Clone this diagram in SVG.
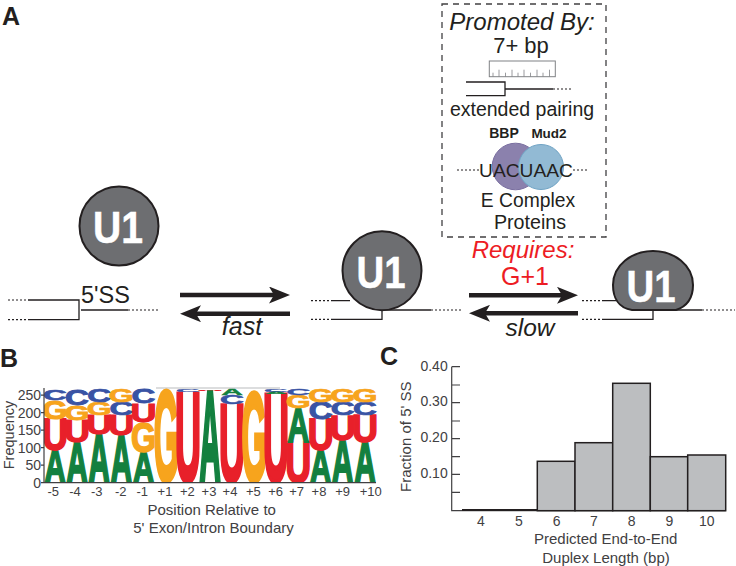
<svg xmlns="http://www.w3.org/2000/svg" width="736" height="566" viewBox="0 0 736 566">
<defs>
<marker id="head" markerUnits="userSpaceOnUse" viewBox="0 0 21 17" refX="13" refY="8.5" markerWidth="21" markerHeight="17" orient="auto"><path d="M0 0L21 8.5L0 17L5 8.5Z" fill="#231f20"/></marker>
<clipPath id="logoclip"><rect x="44" y="380" width="335" height="102.700"/></clipPath>
</defs>
<style>
text{font-family:"Liberation Sans",Arial,sans-serif;fill:#231f20}
.c{text-anchor:middle}
.e{text-anchor:end}
.i{font-style:italic}
.b{font-weight:bold}
.u{fill:#fff;stroke:#fff;stroke-width:.5;font-weight:bold;font-size:44px;text-anchor:middle}
.blob{fill:#6d6e71;stroke:#231f20;stroke-width:2}
.s{fill:none;stroke:#231f20;stroke-width:1.3}
.d{fill:none;stroke:#231f20;stroke-width:1.2;stroke-dasharray:2 2}
.arr{fill:none;stroke:#231f20;stroke-width:4.5;marker-end:url(#head)}
.ax{fill:none;stroke:#414042;stroke-width:1.2}
.t14{font-size:14px;fill:#414042}
.t13{font-size:13px;fill:#414042}
.t15{font-size:15px;fill:#414042}
.bar{fill:#bcbec0;stroke:#231f20;stroke-width:1.5}
.L{font-weight:bold;font-size:100px;text-anchor:middle;stroke-width:4}
.A{fill:#13803f;stroke:#13803f}.U{fill:#e8202a;stroke:#e8202a}.G{fill:#f7a41d;stroke:#f7a41d}.C{fill:#3953a4;stroke:#3953a4}
</style>

<g id="panel-labels">
<text class="b" x="2" y="25" font-size="25">A</text>
<text class="b" x="0" y="367" font-size="25">B</text>
<text class="b" x="380" y="365" font-size="25">C</text>
</g>

<g id="connectors">
<path class="d" d="M8 300H28M8 319.700H28M128 310H160"/>
<path class="s" d="M28 300H79V319.700H28M81 310H128"/>
<path class="arr" d="M180 295H282"/>
<path class="arr" d="M290 313.700H188"/>
<path class="d" d="M311 300.700H331M311 319.300H331M431 310H462"/>
<path class="s" d="M331 300.700H350M331 319.300H382V310M382 310H431"/>
<path class="arr" d="M469 295.300H570"/>
<path class="arr" d="M578 313.300H477"/>
<path class="d" d="M582 300.700H602M582 319.300H602M702 310H735"/>
<path class="s" d="M602 300.700H616M602 319.300H653V310M675 310H702"/>
</g>

<g id="u1-free">
<circle class="blob" cx="119" cy="226" r="39.500"/>
<text class="u" x="118" y="243" textLength="50" lengthAdjust="spacingAndGlyphs">U1</text>
</g>
<g id="u1-bound">
<circle class="blob" cx="382" cy="270.700" r="39.500"/>
<text class="u" x="381" y="288" textLength="49" lengthAdjust="spacingAndGlyphs">U1</text>
</g>
<g id="u1-stable">
<path class="blob" d="M632 310C618 308 613 297 613 285C613 265 632 251 653 251C674 251 693 265 693 285C693 297 688 306 676 310Z"/>
<text class="u" x="651" y="301.700" textLength="49" lengthAdjust="spacingAndGlyphs">U1</text>
</g>

<g id="labels-a">
<text x="81" y="303" font-size="23.500">5'SS</text>
<text class="c i" x="242" y="335" font-size="25">fast</text>
<text class="c i" x="530" y="336" font-size="24.500">slow</text>
<text class="c i" x="523" y="258" font-size="24" style="fill:#ed1c24">Requires:</text>
<text class="c" x="525" y="285" font-size="25" style="fill:#ed1c24">G+1</text>
</g>

<g id="promoted-box">
<rect x="442" y="4" width="164" height="233" fill="none" stroke="#414042" stroke-width="1.300" stroke-dasharray="6 5"/>
<text class="c i" x="522" y="30" font-size="24">Promoted By:</text>
<text class="c" x="521" y="53" font-size="22">7+ bp</text>
<rect x="489.300" y="61" width="66" height="15.700" fill="none" stroke="#808285" stroke-width="1"/>
<path d="M493 76.700v-4M499 76.700v-7M505.500 76.700v-4M512 76.700v-7M518 76.700v-4M524 76.700v-7M530.500 76.700v-4M537 76.700v-7M543 76.700v-4M549.500 76.700v-7" fill="none" stroke="#808285" stroke-width="0.800"/>
<path class="s" d="M466 82H505V95.700H466M505 89H553"/>
<path class="d" d="M553 89H572" stroke-dasharray="1.500 1.500"/>
<text class="c" x="522" y="116" font-size="19.500">extended pairing</text>
<text class="c b" x="504" y="137.700" font-size="14">BBP</text>
<text class="c b" x="549" y="137.700" font-size="13.500">Mud2</text>
<circle cx="515.500" cy="166.500" r="23.300" fill="#8b81ad" stroke="#7a6fa0" stroke-width="1"/>
<circle cx="541" cy="167" r="22.500" fill="#92bad4" stroke="#6fa3c4" stroke-width="1"/>
<path class="d" d="M457 170H479M573 170H589"/>
<text class="c" x="526" y="177" font-size="19.200">UACUAAC</text>
<text class="c" x="528" y="207" font-size="19.300">E Complex</text>
<text class="c" x="530" y="229" font-size="19.700">Proteins</text>
</g>

<g id="sequence-logo" clip-path="url(#logoclip)">
<path d="M156 388H280" stroke="#a7a9ac" stroke-width="0.800" fill="none"/>
<g transform="translate(55,0)">
<text class="L A" transform="translate(0,482.700) scale(.3,.476)">A</text><text class="L U" transform="translate(0,450) scale(.36,.443)">U</text><text class="L G" transform="translate(0,419) scale(.32,.265)">G</text><text class="L C" transform="translate(0,400) scale(.33,.153)">C</text>
</g>
<g transform="translate(77,0)">
<text class="L A" transform="translate(0,482.700) scale(.3,.597)">A</text><text class="L U" transform="translate(0,441.700) scale(.36,.31)">U</text><text class="L G" transform="translate(0,420) scale(.32,.209)">G</text><text class="L C" transform="translate(0,405) scale(.33,.223)">C</text>
</g>
<g transform="translate(99.200,0)">
<text class="L A" transform="translate(0,482.700) scale(.3,.709)">A</text><text class="L U" transform="translate(0,434) scale(.36,.271)">U</text><text class="L G" transform="translate(0,415) scale(.32,.186)">G</text><text class="L C" transform="translate(0,401.700) scale(.33,.177)">C</text>
</g>
<g transform="translate(121.300,0)">
<text class="L A" transform="translate(0,482.700) scale(.3,.694)">A</text><text class="L U" transform="translate(0,435) scale(.36,.286)">U</text><text class="L C" transform="translate(0,415) scale(.33,.186)">C</text><text class="L G" transform="translate(0,401.700) scale(.32,.177)">G</text>
</g>
<g transform="translate(143.500,0)">
<text class="L A" transform="translate(0,482.700) scale(.3,.451)">A</text><text class="L G" transform="translate(0,451.700) scale(.32,.419)">G</text><text class="L U" transform="translate(0,421.700) scale(.36,.262)">U</text><text class="L C" transform="translate(0,403.300) scale(.33,.2)">C</text>
</g>
<g transform="translate(166.300,0)">
<text class="L G" transform="translate(0,481) scale(.32,1.28)">G</text>
</g>
<g transform="translate(188,0)">
<text class="L U" transform="translate(0,481) scale(.36,1.27)">U</text><text class="L C" transform="translate(0,391.700) scale(.33,.037)">C</text>
</g>
<g transform="translate(210,0)">
<text class="L A" transform="translate(0,482.700) scale(.3,1.31)">A</text><text class="L U" transform="translate(0,390.700) scale(.36,.024)">U</text>
</g>
<g transform="translate(232,0)">
<text class="L U" transform="translate(0,481) scale(.36,1.1)">U</text><text class="L C" transform="translate(0,404.300) scale(.33,.13)">C</text><text class="L A" transform="translate(0,395) scale(.3,.087)">A</text>
</g>
<g transform="translate(254,0)">
<text class="L G" transform="translate(0,481) scale(.32,1.265)">G</text>
</g>
<g transform="translate(276,0)">
<text class="L U" transform="translate(0,481) scale(.36,1.24)">U</text><text class="L A" transform="translate(0,394) scale(.3,.034)">A</text><text class="L C" transform="translate(0,391.700) scale(.33,.037)">C</text>
</g>
<g transform="translate(298.300,0)">
<text class="L U" transform="translate(0,482) scale(.36,.57)">U</text><text class="L A" transform="translate(0,441.700) scale(.3,.485)">A</text><text class="L G" transform="translate(0,408.300) scale(.32,.186)">G</text><text class="L C" transform="translate(0,395) scale(.33,.084)">C</text>
</g>
<g transform="translate(320.700,0)">
<text class="L A" transform="translate(0,482.700) scale(.3,.476)">A</text><text class="L U" transform="translate(0,450) scale(.36,.443)">U</text><text class="L C" transform="translate(0,419) scale(.33,.242)">C</text><text class="L G" transform="translate(0,401.700) scale(.32,.177)">G</text>
</g>
<g transform="translate(342.700,0)">
<text class="L A" transform="translate(0,482.700) scale(.3,.621)">A</text><text class="L U" transform="translate(0,440) scale(.36,.357)">U</text><text class="L C" transform="translate(0,415) scale(.33,.186)">C</text><text class="L G" transform="translate(0,401.700) scale(.32,.177)">G</text>
</g>
<g transform="translate(365,0)">
<text class="L A" transform="translate(0,482.700) scale(.3,.597)">A</text><text class="L U" transform="translate(0,441.700) scale(.36,.381)">U</text><text class="L C" transform="translate(0,415) scale(.33,.186)">C</text><text class="L G" transform="translate(0,401.700) scale(.32,.177)">G</text>
</g>
</g>

<g id="logo-axes">
<path class="ax" d="M44 388V482.700H376M41 482.700H44M41 465.200H44M41 447.700H44M41 430.200H44M41 412.700H44M41 395.200H44"/>
<text class="e t14" x="41" y="487.500">0</text>
<text class="e t14" x="41" y="470">50</text>
<text class="e t14" x="41" y="452.500">100</text>
<text class="e t14" x="41" y="435">150</text>
<text class="e t14" x="41" y="417.500">200</text>
<text class="e t14" x="41" y="400">250</text>
<text class="c t14" transform="translate(13.500,435) rotate(-90)" style="font-size:14.500px">Frequency</text>
<text class="c t13" x="53.300" y="496">-5</text>
<text class="c t13" x="75" y="496">-4</text>
<text class="c t13" x="96.700" y="496">-3</text>
<text class="c t13" x="120.700" y="496">-2</text>
<text class="c t13" x="142.300" y="496">-1</text>
<text class="c t13" x="165" y="496">+1</text>
<text class="c t13" x="187.300" y="496">+2</text>
<text class="c t13" x="209" y="496">+3</text>
<text class="c t13" x="230" y="496">+4</text>
<text class="c t13" x="253.300" y="496">+5</text>
<text class="c t13" x="275.700" y="496">+6</text>
<text class="c t13" x="296.700" y="496">+7</text>
<text class="c t13" x="319" y="496">+8</text>
<text class="c t13" x="342.700" y="496">+9</text>
<text class="c t13" x="370.700" y="496">+10</text>
<text class="c t15" x="211.700" y="515">Position Relative to</text>
<text class="c t15" x="213.500" y="533">5' Exon/Intron Boundary</text>
</g>

<g id="duplex-histogram">
<path class="ax" d="M451.700 366.700V510.700H725.700M451.700 366.700H460M451.700 385H460M451.700 402.700H460M451.700 421H460M451.700 438.700H460M451.700 456.700H460M451.700 474.300H460M451.700 492.300H460"/>
<path d="M462 510H537" stroke="#231f20" stroke-width="2" fill="none"/>
<rect class="bar" x="537.300" y="461.300" width="37.700" height="49.400"/>
<rect class="bar" x="575" y="442.700" width="37.700" height="68"/>
<rect class="bar" x="612.700" y="383.300" width="37.600" height="127.400"/>
<rect class="bar" x="650.300" y="456.700" width="37.400" height="54"/>
<rect class="bar" x="687.700" y="455" width="38" height="55.700"/>
<text class="e t14" x="447.700" y="370.500">0.40</text>
<text class="e t14" x="447.700" y="406">0.30</text>
<text class="e t14" x="447.700" y="442">0.20</text>
<text class="e t14" x="447.700" y="477.700">0.10</text>
<text class="c t14" x="481" y="525.700">4</text>
<text class="c t14" x="519" y="525.700">5</text>
<text class="c t14" x="556.700" y="525.700">6</text>
<text class="c t14" x="594" y="525.700">7</text>
<text class="c t14" x="631.700" y="525.700">8</text>
<text class="c t14" x="669.300" y="525.700">9</text>
<text class="c t14" x="706.700" y="525.700">10</text>
<text class="c t15" x="605.700" y="544">Predicted End-to-End</text>
<text class="c t15" x="606" y="562.700">Duplex Length (bp)</text>
<text class="c t15" transform="translate(410.700,436.700) rotate(-90)">Fraction of 5' SS</text>
</g>
</svg>
